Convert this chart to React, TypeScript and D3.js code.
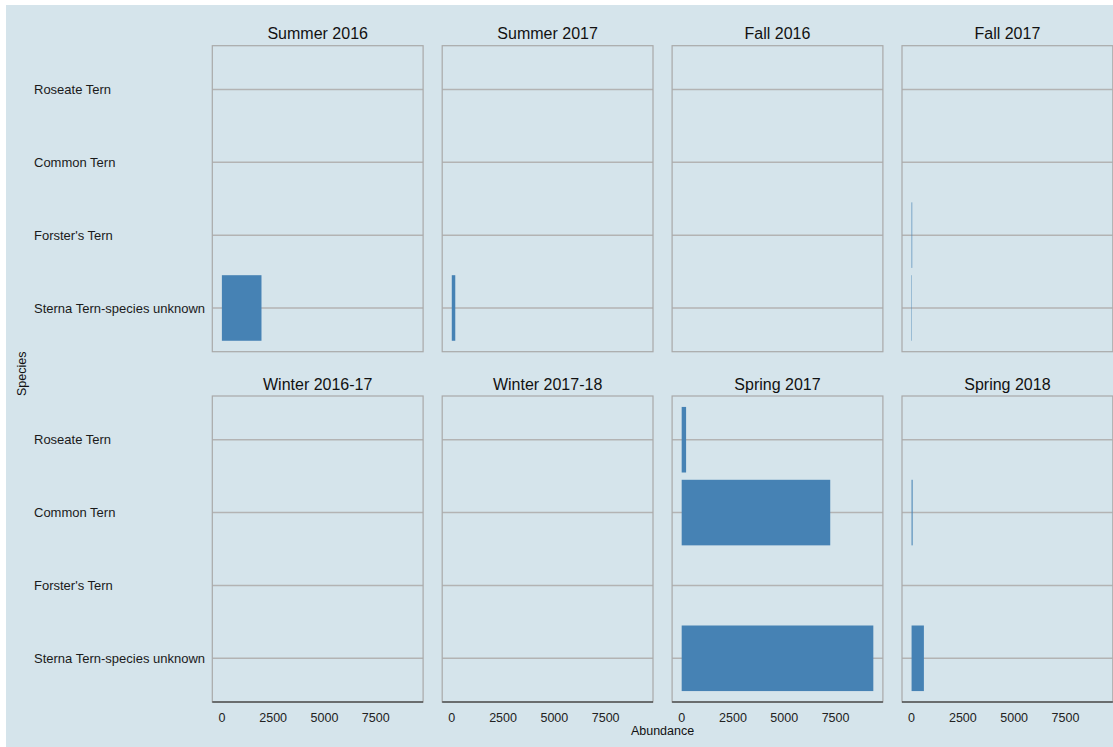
import React from "react";
import * as d3 from "d3";

// Survey seasons, in facet order (row-major, 4 columns)
const seasons = [
  "Summer 2016",
  "Summer 2017",
  "Fall 2016",
  "Fall 2017",
  "Winter 2016-17",
  "Winter 2017-18",
  "Spring 2017",
  "Spring 2018",
];

// Species, top to bottom within each panel
const species = [
  "Roseate Tern",
  "Common Tern",
  "Forster's Tern",
  "Sterna Tern-species unknown",
];

// Abundance per season, one value per species (same order as `species`)
const summer2016 = [0, 0, 0, 1930];
const summer2017 = [0, 0, 0, 170];
const fall2016 = [0, 0, 0, 0];
const fall2017 = [0, 0, 30, 20];
const winter201617 = [0, 0, 0, 0];
const winter201718 = [0, 0, 0, 0];
const spring2017 = [215, 7240, 0, 9340];
const spring2018 = [0, 50, 0, 600];

const abundance = [
  summer2016,
  summer2017,
  fall2016,
  fall2017,
  winter201617,
  winter201718,
  spring2017,
  spring2018,
];

const xTicks = [0, 2500, 5000, 7500];

const W = 1113;
const H = 747;
const BG = "#d5e4eb";
const BAR = "#4682b4";
const FONT = "'Liberation Sans', Arial, Helvetica, sans-serif";

const panelLeft0 = 212.3;
const colStep = 229.9;
const panelW = 210.8;
const panelTop0 = 45.7;
const rowStep = 350.3;
const panelH = 306;

export default function App() {
  const maxVal = d3.max(abundance.flat()) ?? 1;
  const pad = maxVal * 0.05;

  const panels = seasons.map((season, i) => {
    const col = i % 4;
    const row = Math.floor(i / 4);
    const left = panelLeft0 + col * colStep;
    const top = panelTop0 + row * rowStep;
    const x = d3
      .scaleLinear()
      .domain([-pad, maxVal + pad])
      .range([left, left + panelW]);
    const y = d3
      .scalePoint<string>()
      .domain(species)
      .range([top, top + panelH])
      .padding(0.6);
    const barH = y.step() * 0.9;
    return { season, i, col, row, left, top, x, y, barH };
  });

  return (
    <svg
      width={W}
      height={H}
      style={{ position: "absolute", left: 0, top: 0, display: "block" }}
      fontFamily={FONT}
    >
      <rect x={0} y={0} width={W} height={H} fill="#ffffff" />
      <rect x={6} y={5} width={W - 6} height={H - 5} fill={BG} />

      {/* species labels, left aligned, one set per row */}
      {panels
        .filter((p) => p.col === 0)
        .map((p) =>
          species.map((s) => (
            <text
              key={`lab-${p.row}-${s}`}
              x={34}
              y={p.y(s)!}
              dy="0.35em"
              fontSize={13}
              fill="#1a1a1a"
            >
              {s}
            </text>
          ))
        )}

      {panels.map((p) => (
        <g key={p.season}>
          <text
            x={p.left + panelW / 2}
            y={p.top - 6.5}
            textAnchor="middle"
            fontSize={16}
            fill="#111"
          >
            {p.season}
          </text>
          {/* horizontal grid lines at each species */}
          {species.map((s) => (
            <line
              key={s}
              x1={p.left}
              x2={p.left + panelW}
              y1={p.y(s)!}
              y2={p.y(s)!}
              stroke="#b3b3b3"
              strokeWidth={1.5}
            />
          ))}
          {/* bars */}
          {species.map((s, k) => {
            const v = abundance[p.i][k];
            if (!v) return null;
            return (
              <rect
                key={`bar-${s}`}
                x={p.x(0)}
                y={p.y(s)! - p.barH / 2}
                width={p.x(v) - p.x(0)}
                height={p.barH}
                fill={BAR}
              />
            );
          })}
          <rect
            x={p.left}
            y={p.top}
            width={panelW}
            height={panelH}
            fill="none"
            stroke="#a9a9a9"
            strokeWidth={1.2}
          />
          {p.row === 1 && (
            <g>
              <line
                x1={p.left}
                x2={p.left + panelW}
                y1={p.top + panelH}
                y2={p.top + panelH}
                stroke="#1a1a1a"
                strokeWidth={1.2}
              />
              {xTicks.map((t) => (
                <text
                  key={t}
                  x={p.x(t)}
                  y={p.top + panelH + 19.5}
                  textAnchor="middle"
                  fontSize={12.5}
                  fill="#222"
                >
                  {d3.format("d")(t)}
                </text>
              ))}
            </g>
          )}
        </g>
      ))}

      <text
        x={panelLeft0 + (3 * colStep + panelW) / 2}
        y={735}
        textAnchor="middle"
        fontSize={12.5}
        fill="#111"
      >
        Abundance
      </text>
      <text
        transform={`translate(25.5, ${panelTop0 + (rowStep + panelH) / 2}) rotate(-90)`}
        textAnchor="middle"
        fontSize={12.5}
        fill="#111"
      >
        Species
      </text>
    </svg>
  );
}
